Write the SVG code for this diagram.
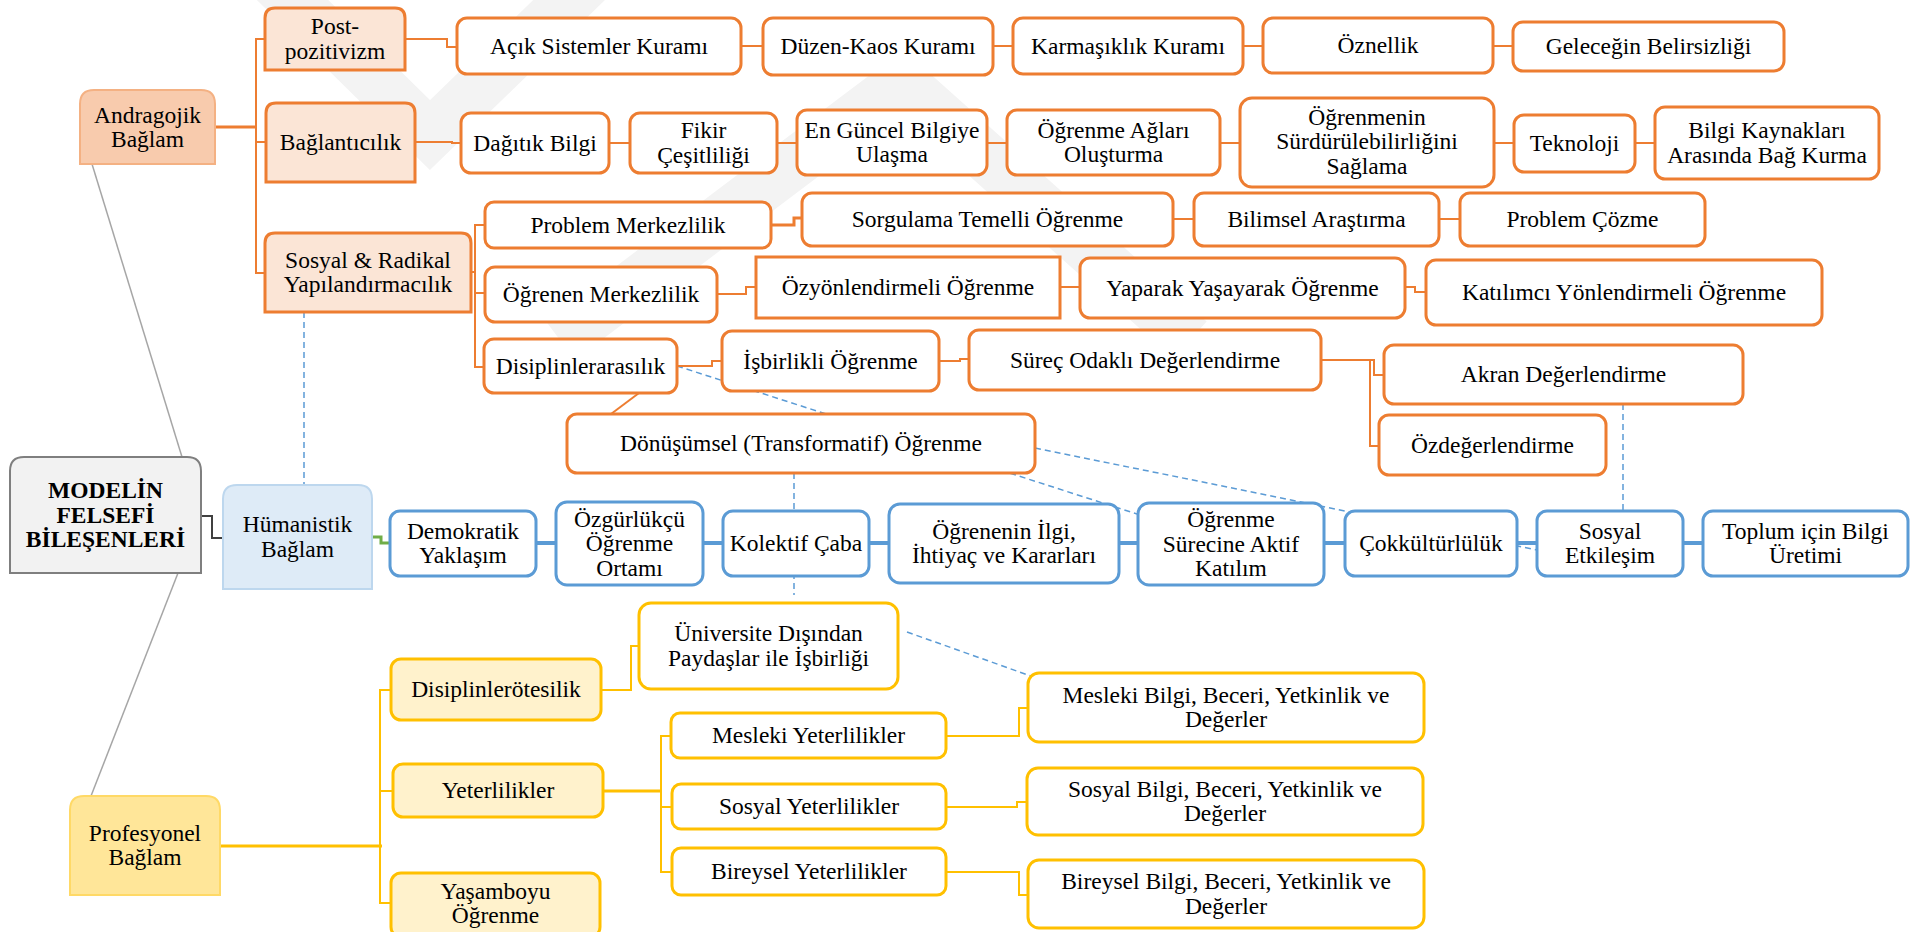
<svg xmlns="http://www.w3.org/2000/svg" width="1910" height="932" viewBox="0 0 1910 932">
  <style>
    .t { font-family: "Liberation Serif", "Times New Roman", serif; font-size: 23.5px; fill: #000; text-anchor: middle; }
    .tb { font-weight: bold; }
    .bo { fill: #fff; stroke: #ED7D31; stroke-width: 3; }
    .bo2 { fill: #FBE5D6; stroke: #ED7D31; stroke-width: 3; }
    .bb { fill: #fff; stroke: #5B9BD5; stroke-width: 3; }
    .by { fill: #fff; stroke: #FFC000; stroke-width: 3; }
    .by2 { fill: #FFF2CC; stroke: #FFC000; stroke-width: 3; }
    .c-o { fill: none; stroke: #ED7D31; stroke-width: 2; }
    .c-o3 { fill: none; stroke: #ED7D31; stroke-width: 3; }
    .c-b { fill: none; stroke: #5B9BD5; stroke-width: 4; }
    .c-y { fill: none; stroke: #FFC000; stroke-width: 2; }
    .c-y3 { fill: none; stroke: #FFC000; stroke-width: 3; }
    .c-d { fill: none; stroke: #5B9BD5; stroke-width: 1.5; stroke-dasharray: 6 4; }
    .c-g { fill: none; stroke: #A6A6A6; stroke-width: 1.5; }
    .wm { fill: none; stroke: #F3F3F3; stroke-width: 50; stroke-linejoin: miter; }
  </style>

  <rect width="1910" height="932" fill="#fff"/>

  <!-- faint background mark -->
  <g id="background-mark">
    <polyline class="wm" points="262,-30 430,135 600,-30"/>
    <polyline class="wm" points="560,340 902,82 1190,340"/>
  </g>

  <!-- connectors -->
  <g id="connectors">
    <!-- dashed cross links -->
    <path class="c-d" d="M304,312 V485"/>
    <path class="c-d" d="M677,366 L1140,515"/>
    <path class="c-d" d="M1035,448 L1537,550"/>
    <path class="c-d" d="M794,473 V595"/>
    <path class="c-d" d="M1623,404 V511"/>
    <path class="c-d" d="M907,632 L1042,680"/>

    <!-- centre links -->
    <path class="c-g" d="M92,164 L182,457"/>
    <path class="c-g" d="M178,573 L91,796"/>
    <path fill="none" stroke="#404040" stroke-width="2" d="M201,516 H212 V538 H223"/>
    <path fill="none" stroke="#70AD47" stroke-width="3" d="M372,537 H381 V543 H390"/>

    <!-- andragojik branch -->
    <path class="c-o3" d="M215,127 H256"/>
    <path class="c-o" d="M265,39 H256 V273 H265 M256,142 H266"/>
    <path class="c-o" d="M405,39 H447 V47 H457"/>
    <path class="c-o" d="M741,46 H763 M993,46 H1013 M1243,46 H1263 M1493,46 H1513"/>
    <path class="c-o" d="M415,142 H452 V143 H461"/>
    <path class="c-o" d="M609,143 H630 M777,143 H797 M987,143 H1007 M1220,143 H1240 M1494,143 H1514 M1635,143 H1655"/>
    <path class="c-o" d="M471,272 H475 M485,225 H475 V367 H484 M475,293 H485"/>
    <path class="c-o3" d="M771,225 H794 V218 H802"/>
    <path class="c-o" d="M1173,219 H1194 M1439,219 H1460"/>
    <path class="c-o" d="M717,294 H746 V287 H756"/>
    <path class="c-o" d="M1060,287 H1080"/>
    <path class="c-o" d="M1405,287 H1415 V292 H1426"/>
    <path class="c-o" d="M677,366 H712 V361 H722"/>
    <path class="c-o" d="M939,361 H960 V359 H969"/>
    <path class="c-o" d="M1321,360 H1374 V375 H1384"/>
    <path class="c-o" d="M1370,360 V446 H1379"/>
    <path class="c-o" d="M639,393 L611,414"/>

    <!-- humanistik chain -->
    <path class="c-b" d="M536,543 H556 M703,543 H723 M869,543 H889 M1119,543 H1138 M1324,543 H1345 M1517,543 H1537 M1683,543 H1703"/>

    <!-- profesyonel branch -->
    <path class="c-y3" d="M220,846 H382"/>
    <path class="c-y" d="M391,690 H380 V903 H391 M380,791 H393"/>
    <path class="c-y" d="M601,690 H631 V646 H639"/>
    <path class="c-y3" d="M603,791 H661"/>
    <path class="c-y" d="M671,736 H661 V872 H672 M661,807 H672"/>
    <path class="c-y" d="M946,736 H1019 V708 H1028"/>
    <path class="c-y" d="M946,807 H1017 V802 H1027"/>
    <path class="c-y" d="M946,872 H1019 V895 H1028"/>
  </g>

  <!-- centre -->
  <g id="modelin">
    <path d="M10,573 V471 Q10,457 24,457 H187 Q201,457 201,471 V573 Z" fill="#F2F2F2" stroke="#7F7F7F" stroke-width="2"/>
    <text class="t tb" x="105.5"><tspan x="105.5" y="498">MODELİN</tspan><tspan x="105.5" y="522.5">FELSEFİ</tspan><tspan x="105.5" y="547">BİLEŞENLERİ</tspan></text>
  </g>

  <!-- andragojik context -->
  <g id="andragojik">
    <path d="M80,164 V104 Q80,90 94,90 H201 Q215,90 215,104 V164 Z" fill="#F8CBAD" stroke="#F4B183" stroke-width="2"/>
    <text class="t"><tspan x="147.5" y="122.5">Andragojik</tspan><tspan x="147.5" y="147">Bağlam</tspan></text>
  </g>
  <g id="post-pozitivizm">
    <path class="bo2" d="M265,70 V18 Q265,8 275,8 H395 Q405,8 405,18 V70 Z"/>
    <text class="t"><tspan x="335" y="34.3">Post-</tspan><tspan x="335" y="58.8">pozitivizm</tspan></text>
  </g>
  <g id="baglanticilik">
    <path class="bo2" d="M266,182 V113 Q266,103 276,103 H405 Q415,103 415,113 V182 Z"/>
    <text class="t"><tspan x="340.5" y="150">Bağlantıcılık</tspan></text>
  </g>
  <g id="sosyal-radikal">
    <path class="bo2" d="M265,312 V243 Q265,233 275,233 H461 Q471,233 471,243 V312 Z"/>
    <text class="t"><tspan x="368" y="267.8">Sosyal &amp; Radikal</tspan><tspan x="368" y="292.3">Yapılandırmacılık</tspan></text>
  </g>

  <g id="acik-sistemler"><rect class="bo" x="457" y="18" width="284" height="56" rx="10"/><text class="t" x="599" y="53.5">Açık Sistemler Kuramı</text></g>
  <g id="duzen-kaos"><rect class="bo" x="763" y="18" width="230" height="57" rx="10"/><text class="t" x="878" y="54">Düzen-Kaos Kuramı</text></g>
  <g id="karmasiklik"><rect class="bo" x="1013" y="18" width="230" height="56" rx="10"/><text class="t" x="1128" y="53.5">Karmaşıklık Kuramı</text></g>
  <g id="oznellik"><rect class="bo" x="1263" y="18" width="230" height="55" rx="10"/><text class="t" x="1378" y="53">Öznellik</text></g>
  <g id="gelecegin"><rect class="bo" x="1513" y="22" width="271" height="49" rx="10"/><text class="t" x="1648.5" y="54">Geleceğin Belirsizliği</text></g>

  <g id="dagitik-bilgi"><rect class="bo" x="461" y="113" width="148" height="60" rx="10"/><text class="t" x="535" y="150.5">Dağıtık Bilgi</text></g>
  <g id="fikir"><rect class="bo" x="630" y="113" width="147" height="60" rx="10"/><text class="t"><tspan x="703.5" y="138.3">Fikir</tspan><tspan x="703.5" y="162.8">Çeşitliliği</tspan></text></g>
  <g id="en-guncel"><rect class="bo" x="797" y="110" width="190" height="65" rx="10"/><text class="t"><tspan x="892" y="137.8">En Güncel Bilgiye</tspan><tspan x="892" y="162.3">Ulaşma</tspan></text></g>
  <g id="ogrenme-aglari"><rect class="bo" x="1007" y="110" width="213" height="65" rx="10"/><text class="t"><tspan x="1113.5" y="137.8">Öğrenme Ağları</tspan><tspan x="1113.5" y="162.3">Oluşturma</tspan></text></g>
  <g id="surdurulebilirlik"><rect class="bo" x="1240" y="98" width="254" height="89" rx="12"/><text class="t"><tspan x="1367" y="124.5">Öğrenmenin</tspan><tspan x="1367" y="149">Sürdürülebilirliğini</tspan><tspan x="1367" y="173.5">Sağlama</tspan></text></g>
  <g id="teknoloji"><rect class="bo" x="1514" y="115" width="121" height="57" rx="10"/><text class="t" x="1574.5" y="151">Teknoloji</text></g>
  <g id="bilgi-kaynaklari"><rect class="bo" x="1655" y="107" width="224" height="72" rx="10"/><text class="t"><tspan x="1767" y="138.3">Bilgi Kaynakları</tspan><tspan x="1767" y="162.8">Arasında Bağ Kurma</tspan></text></g>

  <g id="problem-merkezlilik"><rect class="bo" x="485" y="202" width="286" height="46" rx="9"/><text class="t" x="628" y="233">Problem Merkezlilik</text></g>
  <g id="sorgulama"><rect class="bo" x="802" y="193" width="371" height="53" rx="10"/><text class="t" x="987.5" y="227">Sorgulama Temelli Öğrenme</text></g>
  <g id="bilimsel"><rect class="bo" x="1194" y="193" width="245" height="53" rx="10"/><text class="t" x="1316.5" y="227">Bilimsel Araştırma</text></g>
  <g id="problem-cozme"><rect class="bo" x="1460" y="193" width="245" height="53" rx="10"/><text class="t" x="1582.5" y="227">Problem Çözme</text></g>

  <g id="ogrenen-merkezlilik"><rect class="bo" x="485" y="267" width="232" height="55" rx="10"/><text class="t" x="601" y="302">Öğrenen Merkezlilik</text></g>
  <g id="ozyonlendirmeli"><rect class="bo" x="756" y="257" width="304" height="61" rx="0"/><text class="t" x="908" y="295">Özyönlendirmeli Öğrenme</text></g>
  <g id="yaparak"><rect class="bo" x="1080" y="258" width="325" height="60" rx="10"/><text class="t" x="1242.5" y="295.5">Yaparak Yaşayarak Öğrenme</text></g>
  <g id="katilimci"><rect class="bo" x="1426" y="260" width="396" height="65" rx="10"/><text class="t" x="1624" y="300">Katılımcı Yönlendirmeli Öğrenme</text></g>

  <g id="disiplinlerarasilik"><rect class="bo" x="484" y="339" width="193" height="54" rx="10"/><text class="t" x="580.5" y="374">Disiplinlerarasılık</text></g>
  <g id="isbirlikli"><rect class="bo" x="722" y="331" width="217" height="60" rx="10"/><text class="t" x="830.5" y="368.5">İşbirlikli Öğrenme</text></g>
  <g id="surec-odakli"><rect class="bo" x="969" y="330" width="352" height="60" rx="10"/><text class="t" x="1145" y="367.5">Süreç Odaklı Değerlendirme</text></g>
  <g id="akran"><rect class="bo" x="1384" y="345" width="359" height="59" rx="10"/><text class="t" x="1563.5" y="382">Akran Değerlendirme</text></g>
  <g id="ozdegerlendirme"><rect class="bo" x="1379" y="415" width="227" height="60" rx="10"/><text class="t" x="1492.5" y="452.5">Özdeğerlendirme</text></g>
  <g id="donusumsel"><rect class="bo" x="567" y="414" width="468" height="59" rx="10"/><text class="t" x="801" y="451">Dönüşümsel (Transformatif) Öğrenme</text></g>

  <!-- humanistik context -->
  <g id="humanistik">
    <path d="M223,589 V499 Q223,485 237,485 H358 Q372,485 372,499 V589 Z" fill="#DEEBF7" stroke="#BDD7EE" stroke-width="2"/>
    <text class="t"><tspan x="297.5" y="532.3">Hümanistik</tspan><tspan x="297.5" y="556.8">Bağlam</tspan></text>
  </g>
  <g id="demokratik"><rect class="bb" x="390" y="511" width="146" height="65" rx="10"/><text class="t"><tspan x="463" y="538.8">Demokratik</tspan><tspan x="463" y="563.3">Yaklaşım</tspan></text></g>
  <g id="ozgurlukcu"><rect class="bb" x="556" y="502" width="147" height="83" rx="11"/><text class="t"><tspan x="629.5" y="526.5">Özgürlükçü</tspan><tspan x="629.5" y="551">Öğrenme</tspan><tspan x="629.5" y="575.5">Ortamı</tspan></text></g>
  <g id="kolektif"><rect class="bb" x="723" y="511" width="146" height="65" rx="10"/><text class="t" x="796" y="551">Kolektif Çaba</text></g>
  <g id="ogrenenin-ilgi"><rect class="bb" x="889" y="504" width="230" height="79" rx="11"/><text class="t"><tspan x="1004" y="538.8">Öğrenenin İlgi,</tspan><tspan x="1004" y="563.3">İhtiyaç ve Kararları</tspan></text></g>
  <g id="ogrenme-surecine"><rect class="bb" x="1138" y="503" width="186" height="82" rx="11"/><text class="t"><tspan x="1231" y="527">Öğrenme</tspan><tspan x="1231" y="551.5">Sürecine Aktif</tspan><tspan x="1231" y="576">Katılım</tspan></text></g>
  <g id="cokkulturluluk"><rect class="bb" x="1345" y="511" width="172" height="65" rx="10"/><text class="t" x="1431" y="551">Çokkültürlülük</text></g>
  <g id="sosyal-etkilesim"><rect class="bb" x="1537" y="511" width="146" height="65" rx="10"/><text class="t"><tspan x="1610" y="538.8">Sosyal</tspan><tspan x="1610" y="563.3">Etkileşim</tspan></text></g>
  <g id="toplum"><rect class="bb" x="1703" y="511" width="205" height="65" rx="10"/><text class="t"><tspan x="1805.5" y="538.8">Toplum için Bilgi</tspan><tspan x="1805.5" y="563.3">Üretimi</tspan></text></g>

  <!-- profesyonel context -->
  <g id="profesyonel">
    <path d="M70,895 V810 Q70,796 84,796 H206 Q220,796 220,810 V895 Z" fill="#FFE699" stroke="#FFD966" stroke-width="2"/>
    <text class="t"><tspan x="145" y="840.8">Profesyonel</tspan><tspan x="145" y="865.3">Bağlam</tspan></text>
  </g>
  <g id="disiplinlerotesilik"><rect class="by2" x="391" y="659" width="210" height="61" rx="10"/><text class="t" x="496" y="697">Disiplinlerötesilik</text></g>
  <g id="yeterlilikler"><rect class="by2" x="393" y="764" width="210" height="53" rx="10"/><text class="t" x="498" y="798">Yeterlilikler</text></g>
  <g id="yasamboyu"><rect class="by2" x="391" y="873" width="209" height="64" rx="10"/><text class="t"><tspan x="495.5" y="898.5">Yaşamboyu</tspan><tspan x="495.5" y="923">Öğrenme</tspan></text></g>
  <g id="universite"><rect class="by" x="639" y="603" width="259" height="86" rx="12"/><text class="t"><tspan x="768.5" y="641.3">Üniversite Dışından</tspan><tspan x="768.5" y="665.8">Paydaşlar ile İşbirliği</tspan></text></g>
  <g id="mesleki-yet"><rect class="by" x="671" y="713" width="275" height="45" rx="9"/><text class="t" x="808.5" y="743">Mesleki Yeterlilikler</text></g>
  <g id="sosyal-yet"><rect class="by" x="672" y="784" width="274" height="45" rx="9"/><text class="t" x="809" y="814">Sosyal Yeterlilikler</text></g>
  <g id="bireysel-yet"><rect class="by" x="672" y="848" width="274" height="47" rx="9"/><text class="t" x="809" y="879">Bireysel Yeterlilikler</text></g>
  <g id="mesleki-bilgi"><rect class="by" x="1028" y="673" width="396" height="69" rx="11"/><text class="t"><tspan x="1226" y="702.8">Mesleki Bilgi, Beceri, Yetkinlik ve</tspan><tspan x="1226" y="727.3">Değerler</tspan></text></g>
  <g id="sosyal-bilgi"><rect class="by" x="1027" y="768" width="396" height="67" rx="11"/><text class="t"><tspan x="1225" y="796.8">Sosyal Bilgi, Beceri, Yetkinlik ve</tspan><tspan x="1225" y="821.3">Değerler</tspan></text></g>
  <g id="bireysel-bilgi"><rect class="by" x="1028" y="860" width="396" height="68" rx="11"/><text class="t"><tspan x="1226" y="889.3">Bireysel Bilgi, Beceri, Yetkinlik ve</tspan><tspan x="1226" y="913.8">Değerler</tspan></text></g>
</svg>
